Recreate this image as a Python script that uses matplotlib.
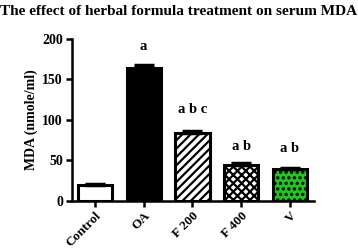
import matplotlib
matplotlib.use("Agg")
import matplotlib.pyplot as plt
import numpy as np

categories = ["Control", "OA", "F 200", "F 400", "V"]
values = [19.5, 164, 84, 44, 39]
errors = [1.0, 4.0, 2.0, 2.5, 1.5]
letters = ["", "a", "a b c", "a b", "a b"]
letter_y = [None, 191, 113, 67, 64]
colors = ["white", "black", "white", "white", "#1ec81e"]
hatches = [None, None, "////", "xxxx", "..."]
yticks = [0, 50, 100, 150, 200]

plt.rcParams['font.family'] = ['Liberation Serif', 'DejaVu Serif']
plt.rcParams['font.weight'] = 'bold'
plt.rcParams['hatch.linewidth'] = 1.6

fig = plt.figure(figsize=(3.58, 2.49), dpi=100)
ax = fig.add_axes([0.201, 0.194, 0.676, 0.65])
x = np.arange(len(categories))
for i in range(len(categories)):
    ax.bar(x[i], values[i], width=0.7, color=colors[i], edgecolor="black",
           linewidth=2.2, hatch=hatches[i], zorder=2)
ax.errorbar(x, values, yerr=[np.zeros(len(values)), errors], fmt="none",
            ecolor="black", elinewidth=2.2, capsize=7.5, capthick=2.5, zorder=3)
for i in range(len(categories)):
    if letters[i]:
        ax.text(x[i], letter_y[i], letters[i], ha="center", va="center",
                fontsize=10.5, fontweight="bold")

ax.set_xlim(-0.47, 4.49)
ax.set_ylim(0, 200)
ax.set_yticks(yticks)
ax.set_yticklabels([str(t) for t in yticks], fontsize=10, fontweight="bold")
ax.set_xticks(x)
ax.set_xticklabels(categories, rotation=45, ha="right", rotation_mode="anchor",
                   fontsize=9.5, fontweight="bold")
ax.set_ylabel("MDA (nmole/ml)", fontsize=10, fontweight="bold", labelpad=3)
for s in ["top", "right"]:
    ax.spines[s].set_visible(False)
for s in ["left", "bottom"]:
    ax.spines[s].set_linewidth(1.8)
ax.tick_params(width=1.8, length=4.5, direction="out", pad=2)
fig.text(0.5, 0.955, "The effect of herbal formula treatment on serum MDA",
         ha="center", va="center", fontsize=11, fontweight="bold")
fig.savefig("out.png", dpi=100)
